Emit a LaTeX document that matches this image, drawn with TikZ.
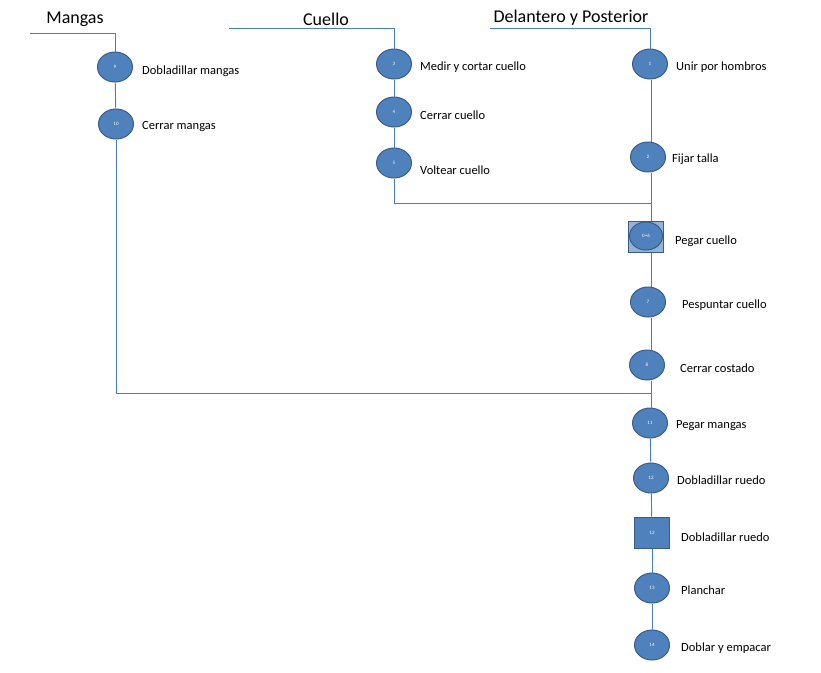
\documentclass[tikz,border=0pt]{standalone}
\usepackage{fontspec}
\setmainfont{Carlito}
\usetikzlibrary{shapes.geometric}
\definecolor{opfill}{HTML}{4F81BD}
\definecolor{opdraw}{HTML}{385D8A}
\definecolor{oplight}{HTML}{95B3D7}
\definecolor{linec}{HTML}{4A7EBB}
\tikzset{
  op/.style={ellipse, draw=opdraw, line width=1pt, fill=opfill, minimum width=35pt, minimum height=30pt, inner sep=0pt, text=white, font=\fontsize{5}{6}\selectfont},
  insp/.style={rectangle, draw=opdraw, line width=1pt, fill=opfill, minimum width=35pt, minimum height=31pt, inner sep=0pt, text=white, font=\fontsize{5}{6}\selectfont},
  combo/.style={rectangle, draw=opdraw, line width=1pt, fill=oplight, minimum width=35pt, minimum height=31pt, inner sep=0pt},
  lbl/.style={anchor=west, inner sep=0pt, font=\fontsize{12.5}{14}\selectfont},
  head/.style={inner sep=0pt, font=\fontsize{18}{20}\selectfont},
  conn/.style={draw=linec, line width=0.9pt}
}
\begin{document}
\begin{tikzpicture}[x=1pt,y=-1pt]
\useasboundingbox (0,0) rectangle (821,672);
% headings
\node[head] (hm) at (75,19) {Mangas};
\node[head] (hc) at (326,19) {Cuello};
\node[head] (hd) at (571,18) {Delantero y Posterior};
\coordinate (m0) at (30,33);
\coordinate (c0) at (229,28);
\coordinate (d0) at (490,28);
% Mangas column
\node[op] (n9) at (115,67) {9};
\node[op] (n10) at (116,124) {10};
\node[lbl] (t9) at (142,71) {Dobladillar mangas};
\node[lbl] (t10) at (142,127) {Cerrar mangas};
% Cuello column
\node[op] (n3) at (394,64) {3};
\node[op] (n4) at (394,112) {4};
\node[op] (n5) at (394,163) {5};
\node[lbl] (t3) at (420,67) {Medir y cortar cuello};
\node[lbl] (t4) at (420,115) {Cerrar cuello};
\node[lbl] (t5) at (420,170) {Voltear cuello};
% main column
\node[op] (n1) at (650,64) {1};
\node[op] (n2) at (648,157) {2};
\node[combo] (b6) at (646,237) {};
\node[op, minimum width=33pt, minimum height=28pt] (n6) at (646,236) {0=6};
\node[op] (n7) at (648,302) {7};
\node[op] (n8) at (647,365) {8};
\node[op] (n11) at (650,423) {11};
\node[op] (n12) at (651,478) {12};
\node[insp] (b12) at (652,533) {12};
\node[op] (n13) at (652,588) {13};
\node[op] (n14) at (652,645) {14};
\node[lbl] (t1) at (676,67) {Unir por hombros};
\node[lbl] (t2) at (672,159) {Fijar talla};
\node[lbl] (t6) at (675,241) {Pegar cuello};
\node[lbl] (t7) at (682,305) {Pespuntar cuello};
\node[lbl] (t8) at (680,368) {Cerrar costado};
\node[lbl] (t11) at (676,426) {Pegar mangas};
\node[lbl] (t12) at (677,480) {Dobladillar ruedo};
\node[lbl] (tb12) at (681,537) {Dobladillar ruedo};
\node[lbl] (t13) at (681,590) {Planchar};
\node[lbl] (t14) at (681,648) {Doblar y empacar};
\coordinate (j1) at (651,203);
\coordinate (j2) at (651,393);
% connectors
\path[conn] (m0) -| (n9.north);
\path[conn] (c0) -| (n3.north);
\path[conn] (d0) -| (n1.north);
\path[conn] (n9) -- (n10);
\path[conn] (n10.south) |- (j2);
\path[conn] (n3) -- (n4);
\path[conn] (n4) -- (n5);
\path[conn] (n5.south) |- (j1);
\path[conn] (n1.south -| j1) -- (n2.north -| j1);
\path[conn] (n2.south -| j1) -- (j1) -- (b6.north -| j1);
\path[conn] (b6.south -| j1) -- (n7.north -| j1);
\path[conn] (n7.south -| j1) -- (n8.north -| j1);
\path[conn] (n8.south -| j1) -- (j2) -- (n11.north -| j1);
\path[conn] (n11) -- (n12);
\path[conn] (n12) -- (b12);
\path[conn] (b12) -- (n13);
\path[conn] (n13) -- (n14);
\end{tikzpicture}
\end{document}
